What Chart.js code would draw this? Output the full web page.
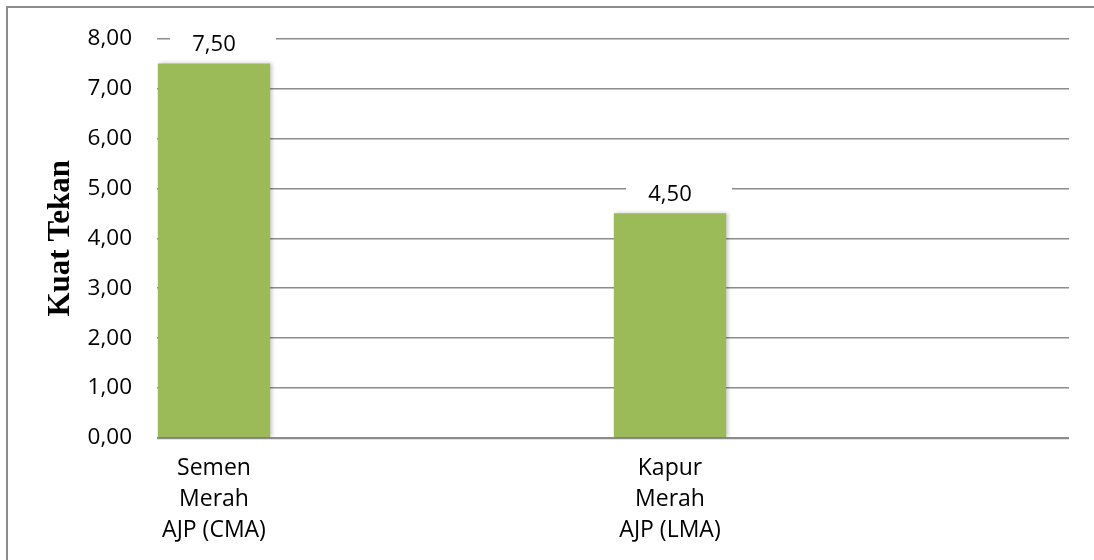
<!DOCTYPE html>
<html>
<head>
<meta charset="utf-8">
<script src="https://cdn.jsdelivr.net/npm/chart.js@4.4.1/dist/chart.umd.min.js"></script>
<style>
  html, body { margin: 0; padding: 0; background: #ffffff; }
  #wrap { position: relative; width: 1094px; height: 560px; }
  canvas { display: block; }
</style>
</head>
<body>
<div id="wrap"><canvas id="chart" width="1094" height="560"></canvas></div>
<script>
// Materials tested and their compressive strength
const categories = [
  ['Semen', 'Merah', 'AJP (CMA)'],
  ['Kapur', 'Merah', 'AJP (LMA)']
];
const kuatTekan = [7.50, 4.50];
const yTicks = [0, 1, 2, 3, 4, 5, 6, 7, 8];

// Each material occupies the first of four equal slots along the axis
const slotsPerCategory = 4;
const slotLabels = [];
const slotValues = [];
categories.forEach((name, i) => {
  for (let s = 0; s < slotsPerCategory; s++) {
    slotLabels.push(s === 0 ? name : '');
    slotValues.push(s === 0 ? kuatTekan[i] : null);
  }
});

const fmt = v => v.toFixed(2).replace('.', ',');
const FONT = "'Open Sans', 'Noto Sans', sans-serif";
const GRID = '#8c8c8c';

// Frame lines along the top and left edges
const framePlugin = {
  id: 'frame',
  beforeDraw(chart) {
    const ctx = chart.ctx;
    ctx.save();
    ctx.fillStyle = '#ffffff';
    ctx.fillRect(0, 0, chart.width, chart.height);
    ctx.fillStyle = GRID;
    ctx.fillRect(6, 6, chart.width - 6, 2);
    ctx.fillRect(6, 6, 2, chart.height - 6);
    ctx.restore();
  }
};

// Soft shadow on the right of the bars
const shadowPlugin = {
  id: 'barShadow',
  beforeDatasetDraw(chart) {
    const ctx = chart.ctx;
    ctx.save();
    ctx.shadowColor = 'rgba(0,0,0,0.22)';
    ctx.shadowBlur = 4;
    ctx.shadowOffsetX = 2;
    ctx.shadowOffsetY = 0;
  },
  afterDatasetDraw(chart) {
    chart.ctx.restore();
  }
};

// Value labels above the bars on a white box
const valueLabelPlugin = {
  id: 'valueLabels',
  afterDatasetsDraw(chart) {
    const ctx = chart.ctx;
    const meta = chart.getDatasetMeta(0);
    ctx.save();
    ctx.font = '22px ' + FONT;
    ctx.textAlign = 'center';
    ctx.textBaseline = 'middle';
    meta.data.forEach((bar, i) => {
      const v = slotValues[i];
      if (v === null) return;
      const cx = bar.x;
      const cy = bar.y - 19;
      ctx.fillStyle = '#ffffff';
      ctx.fillRect(cx - 44, cy - 13, 106, 26);
      ctx.fillStyle = '#000000';
      ctx.fillText(fmt(v), cx, cy);
    });
    ctx.restore();
  }
};

new Chart(document.getElementById('chart'), {
  type: 'bar',
  data: {
    labels: slotLabels,
    datasets: [{
      data: slotValues,
      backgroundColor: '#9BBB59',
      borderWidth: 0,
      barPercentage: 1,
      categoryPercentage: 0.985
    }]
  },
  options: {
    responsive: false,
    animation: false,
    devicePixelRatio: 1,
    layout: { padding: { top: 35, right: 25, bottom: 0, left: 0 } },
    plugins: {
      legend: { display: false },
      tooltip: { enabled: false }
    },
    scales: {
      x: {
        grid: { display: false, drawTicks: false },
        border: { display: false },
        ticks: {
          autoSkip: false,
          maxRotation: 0,
          minRotation: 0,
          padding: 15,
          color: '#000000',
          font: { family: FONT, size: 23, lineHeight: 1.35 }
        },
        afterFit(scale) { scale.height = 122; }
      },
      y: {
        min: 0,
        max: 8,
        afterBuildTicks(scale) { scale.ticks = yTicks.map(v => ({ value: v })); },
        grid: {
          color: GRID,
          lineWidth: c => (c.tick && c.tick.value === 0 ? 2.2 : 1.5),
          drawTicks: false
        },
        border: { display: false },
        ticks: {
          padding: 25,
          color: '#000000',
          font: { family: FONT, size: 22.5 },
          callback: v => fmt(v)
        },
        title: {
          display: true,
          text: 'Kuat Tekan',
          color: '#000000',
          font: { family: "'Liberation Serif', 'DejaVu Serif', serif", size: 31, weight: 'bold' },
          padding: { top: 42, bottom: 0 }
        },
        afterFit(scale) { scale.width = 157; }
      }
    }
  },
  plugins: [framePlugin, shadowPlugin, valueLabelPlugin]
});
</script>
</body>
</html>
